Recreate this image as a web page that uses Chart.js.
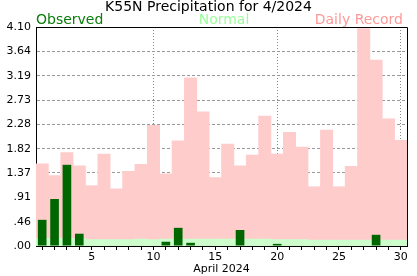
<!DOCTYPE html>
<html>
<head>
<meta charset="utf-8">
<script src="https://cdn.jsdelivr.net/npm/chart.js@4/dist/chart.umd.min.js"></script>
<style>
  html, body { margin: 0; padding: 0; background: #ffffff; }
  #wrap { width: 417px; height: 276px; position: relative; }
</style>
</head>
<body>
<div id="wrap"><canvas id="c" width="417" height="276"></canvas></div>
<script>
const days = ['1','2','3','4','5','6','7','8','9','10','11','12','13','14','15','16','17','18','19','20','21','22','23','24','25','26','27','28','29','30'];
const observed = [0.49, 0.88, 1.52, 0.23, null, null, null, null, null, null, 0.08, 0.34, 0.06, null, null, null, 0.30, null, null, 0.04, null, null, null, null, null, null, null, 0.21, null, null];
const normal = [0.14, 0.14, 0.14, 0.14, 0.12, 0.12, 0.12, 0.12, 0.13, 0.12, 0.13, 0.13, 0.13, 0.13, 0.13, 0.13, 0.13, 0.13, 0.13, 0.12, 0.12, 0.12, 0.11, 0.11, 0.11, 0.11, 0.11, 0.11, 0.11, 0.11];
const record = [1.54, 1.32, 1.75, 1.50, 1.13, 1.72, 1.07, 1.40, 1.53, 2.26, 1.35, 1.97, 3.15, 2.51, 1.28, 1.91, 1.50, 1.70, 2.43, 1.72, 2.13, 1.85, 1.11, 2.17, 1.11, 1.49, 4.07, 3.48, 2.38, 1.98];
const yTickValues = [0, 0.4556, 0.9111, 1.3667, 1.8222, 2.2778, 2.7333, 3.1889, 3.6444, 4.10];
const yTickLabels = ['.00', '.46', '.91', '1.37', '1.82', '2.28', '2.73', '3.19', '3.64', '4.10'];
const xLabelDays = ['5', '10', '15', '20', '25', '30'];
const gridDays = ['10', '20', '30'];
const titleText = 'K55N Precipitation for 4/2024';
const xTitle = 'April 2024';
const seriesNames = ['Observed', 'Normal', 'Daily Record'];

const FONT = 'DejaVu Sans';

const headerPlugin = {
  id: 'header',
  afterDraw(chart) {
    const ctx = chart.ctx;
    const a = chart.chartArea;
    ctx.save();
    // frame
    ctx.strokeStyle = '#000000';
    ctx.lineWidth = 1;
    ctx.beginPath();
    ctx.moveTo(Math.round(a.left) + 0.5, Math.round(a.top) + 0.5);
    ctx.lineTo(Math.round(a.right) + 0.5, Math.round(a.top) + 0.5);
    ctx.lineTo(Math.round(a.right) + 0.5, Math.round(a.bottom) + 0.5);
    ctx.stroke();
    ctx.textBaseline = 'alphabetic';
    ctx.font = '14px "' + FONT + '"';
    ctx.fillStyle = '#000000';
    ctx.textAlign = 'center';
    ctx.fillText(titleText, chart.width / 2, 11);
    ctx.textAlign = 'left';
    ctx.fillStyle = '#0a7d0a';
    ctx.fillText(seriesNames[0], a.left, 24);
    ctx.textAlign = 'center';
    ctx.fillStyle = '#99ff99';
    ctx.fillText(seriesNames[1], 224, 24);
    ctx.textAlign = 'right';
    ctx.fillStyle = '#ff9999';
    ctx.fillText(seriesNames[2], a.right - 4, 24);
    ctx.restore();
  }
};

new Chart(document.getElementById('c'), {
  type: 'bar',
  data: {
    labels: days,
    datasets: [
      { label: seriesNames[0], data: observed, backgroundColor: '#006600', grouped: false, barPercentage: 0.7, categoryPercentage: 1, order: 0 },
      { label: seriesNames[1], data: normal, backgroundColor: '#ccffcc', grouped: false, barPercentage: 1, categoryPercentage: 1, order: 1 },
      { label: seriesNames[2], data: record, backgroundColor: '#ffcccc', grouped: false, barPercentage: 1, categoryPercentage: 1, order: 2 }
    ]
  },
  options: {
    responsive: false,
    animation: false,
    events: [],
    layout: { padding: { top: 27, right: 10, left: 0, bottom: 0 } },
    plugins: { legend: { display: false }, title: { display: false }, tooltip: { enabled: false } },
    scales: {
      x: {
        type: 'category',
        offset: true,
        z: 1,
        grid: {
          offset: false,
          color: (c) => (c.tick && gridDays.includes(days[c.tick.value])) ? '#888888' : 'rgba(0,0,0,0)',
          tickColor: '#000000',
          tickLength: 4,
          tickBorderDash: [],
          lineWidth: 1
        },
        border: { display: true, color: '#000000', width: 1, dash: [1, 2] },
        ticks: {
          autoSkip: false,
          maxRotation: 0,
          padding: 1,
          color: '#000000',
          font: { family: FONT, size: 11 },
          callback: function (v) { const d = days[v]; return xLabelDays.includes(d) ? d : ''; }
        },
        title: { display: true, text: xTitle, color: '#000000', font: { family: FONT, size: 11 }, padding: { top: -2, bottom: 0 } },
        afterFit: (s) => { s.height = 30; }
      },
      y: {
        type: 'linear',
        min: 0,
        max: 4.10,
        z: 1,
        afterBuildTicks: (s) => { s.ticks = yTickValues.map(v => ({ value: v })); },
        grid: { color: '#999999', drawTicks: false, lineWidth: 1 },
        border: { display: true, color: '#000000', width: 1, dash: [3, 2] },
        ticks: {
          padding: 5,
          color: '#000000',
          font: { family: FONT, size: 11 },
          callback: function (v, i) { return yTickLabels[i]; }
        },
        afterFit: (s) => { s.width = 36; }
      }
    }
  },
  plugins: [headerPlugin]
});
</script>
</body>
</html>
